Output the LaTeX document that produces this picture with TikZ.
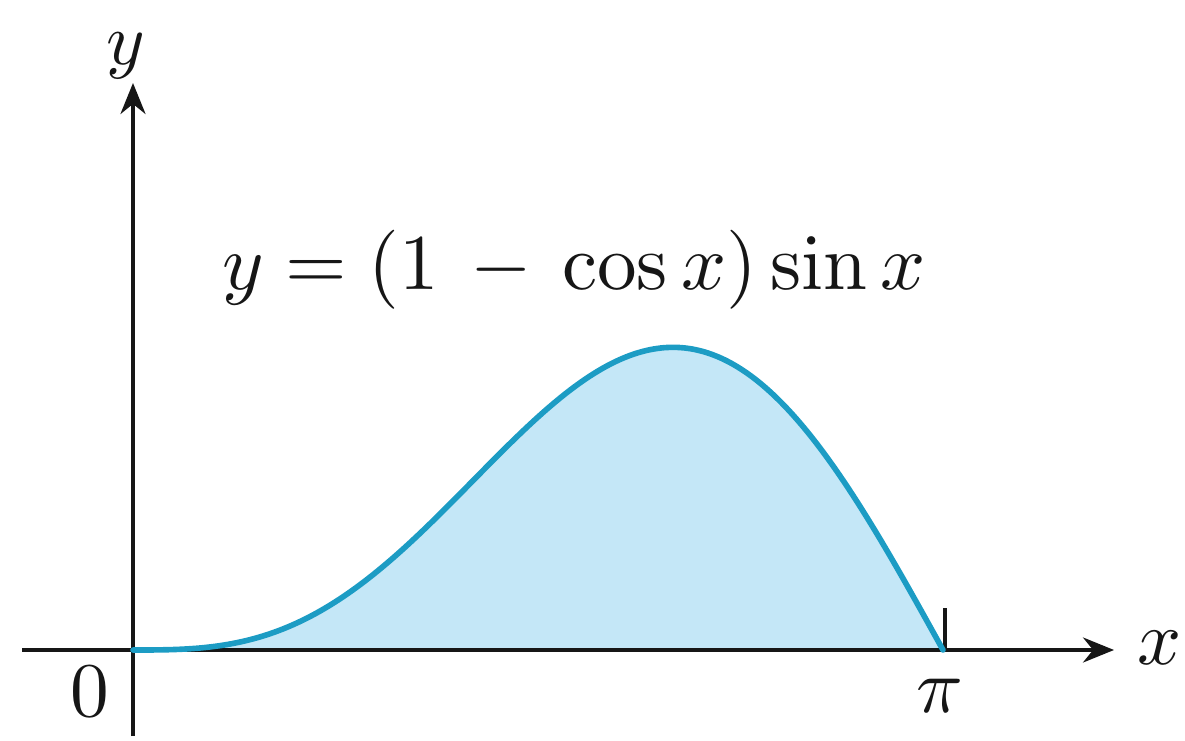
\documentclass[tikz,border=0pt]{standalone}
\usepackage{amsmath,amssymb}
\usetikzlibrary{arrows.meta}
\definecolor{pgcurve}{HTML}{1C9CC4}
\definecolor{pgfill}{HTML}{C4E7F7}
\definecolor{pgaxis}{HTML}{161616}

\begin{document}
\begin{tikzpicture}[x=0.02cm,y=0.02cm,
  axis/.style={pgaxis,line width=2.2pt,-{Stealth[length=0.62cm,width=0.5cm]}},
  lbl/.style={scale=4.4,inner sep=0pt,text=pgaxis}]
  \useasboundingbox (0,0) rectangle (1185,740);
  % shaded region under the curve
  \fill[pgfill] (133,90) -- plot[domain=0:180,samples=120,smooth]
    ({133+4.5*\x},{90+233*(1-cos(\x))*sin(\x)}) -- cycle;
  % axes
  \coordinate (xl) at (22,90);
  \coordinate (xr) at (1114,90);
  \coordinate (yb) at (133,4);
  \coordinate (yt) at (133,657);
  \draw[axis] (xl) -- (xr);
  \draw[axis] (yb) -- (yt);
  \coordinate (pi) at (945,90);
  \coordinate (pitop) at (945,132);
  \draw[pgaxis,line width=2.2pt] (pi) -- (pitop);
  % curve
  \draw[pgcurve,line width=3.2pt,line cap=round] plot[domain=0:180,samples=120,smooth]
    ({133+4.5*\x},{90+233*(1-cos(\x))*sin(\x)});
  % labels
  \node[lbl,scale=0.95] (ylab) at (126,684) {$y$};
  \node[lbl] (xlab) at (1160,92) {$x$};
  \node[lbl] (zero) at (90,48) {$0$};
  \node[lbl] (pilab) at (940,44) {$\pi$};
  \node[scale=4.5,inner sep=0pt,text=pgaxis] (eq) at (574,470) {$y = (1 \,-\, \cos x)\sin x$};
\end{tikzpicture}
\end{document}
